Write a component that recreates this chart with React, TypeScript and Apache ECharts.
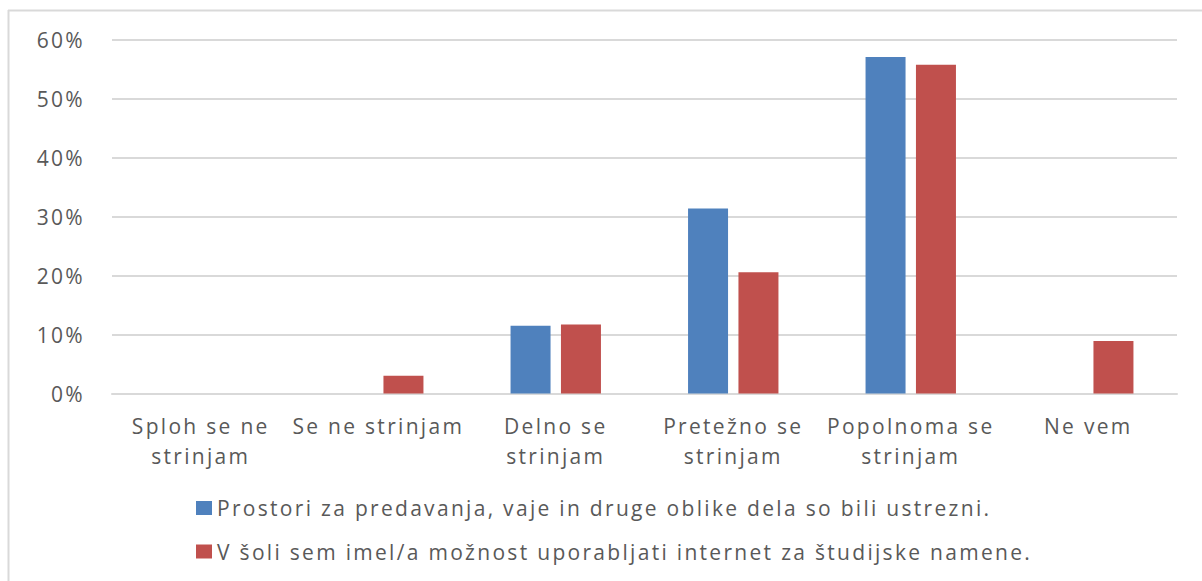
import React, { useEffect, useRef } from "react";
import * as echarts from "echarts";

const categories = [
  "Sploh se ne\nstrinjam",
  "Se ne strinjam",
  "Delno se\nstrinjam",
  "Pretežno se\nstrinjam",
  "Popolnoma se\nstrinjam",
  "Ne vem",
];
const seriesNames = [
  "Prostori za predavanja, vaje in druge oblike dela so bili ustrezni.",
  "V šoli sem imel/a možnost uporabljati internet za študijske namene.",
];
const prostori = [0, 0, 0.115, 0.314, 0.571, 0];
const internet = [0, 0.03, 0.117, 0.206, 0.558, 0.089];
const yTicks = [0, 0.1, 0.2, 0.3, 0.4, 0.5, 0.6];

const FONT = "Open Sans";
const TEXT = "#595959";

export default function App() {
  const ref = useRef<HTMLDivElement>(null);
  useEffect(() => {
    if (!ref.current) return;
    const chart = echarts.init(ref.current, undefined, { renderer: "svg" });
    chart.setOption({
      animation: false,
      backgroundColor: "#ffffff",
      textStyle: { fontFamily: FONT },
      graphic: [
        {
          type: "line",
          shape: { x1: 8, y1: 10.5, x2: 1202, y2: 10.5 },
          style: { stroke: "#d9d9d9", lineWidth: 2 },
        },
        {
          type: "line",
          shape: { x1: 8.5, y1: 10, x2: 8.5, y2: 581 },
          style: { stroke: "#d9d9d9", lineWidth: 2 },
        },
      ],
      grid: { left: 112, right: 25, top: 40, bottom: 187.5, containLabel: false },
      legend: {
        orient: "vertical",
        left: 191,
        top: 489,
        itemWidth: 16,
        itemHeight: 14,
        itemGap: 15.5,
        icon: "rect",
        textStyle: { color: TEXT, fontSize: 21, fontFamily: FONT, lineHeight: 28 },
        data: seriesNames,
      },
      xAxis: {
        type: "category",
        data: categories,
        axisTick: { show: false },
        axisLine: { lineStyle: { color: "#d9d9d9", width: 2 } },
        axisLabel: {
          color: TEXT,
          fontSize: 21,
          fontFamily: FONT,
          lineHeight: 30,
          margin: 17,
          interval: 0,
        },
      },
      yAxis: {
        type: "value",
        min: 0,
        max: 0.6,
        interval: 0.1,
        axisLine: { show: false },
        axisTick: { show: false },
        splitLine: { lineStyle: { color: "#d9d9d9", width: 2 } },
        axisLabel: {
          color: TEXT,
          fontSize: 21,
          fontFamily: FONT,
          margin: 27,
          formatter: (v: number) => {
            const t = yTicks.find((x) => Math.abs(x - v) < 1e-9);
            return Math.round((t ?? v) * 100) + "%";
          },
        },
      },
      series: [
        {
          name: seriesNames[0],
          type: "bar",
          data: prostori,
          barWidth: 40,
          barGap: "26%",
          itemStyle: { color: "#4f81bd" },
        },
        {
          name: seriesNames[1],
          type: "bar",
          data: internet,
          barWidth: 40,
          itemStyle: { color: "#c0504d" },
        },
      ],
    });
    return () => chart.dispose();
  }, []);
  return (
    <>
      <style>{"#root svg text { letter-spacing: 2.3px; }"}</style>
      <div
        ref={ref}
        style={{ position: "absolute", left: 0, top: 0, width: 1202, height: 581 }}
      />
    </>
  );
}
